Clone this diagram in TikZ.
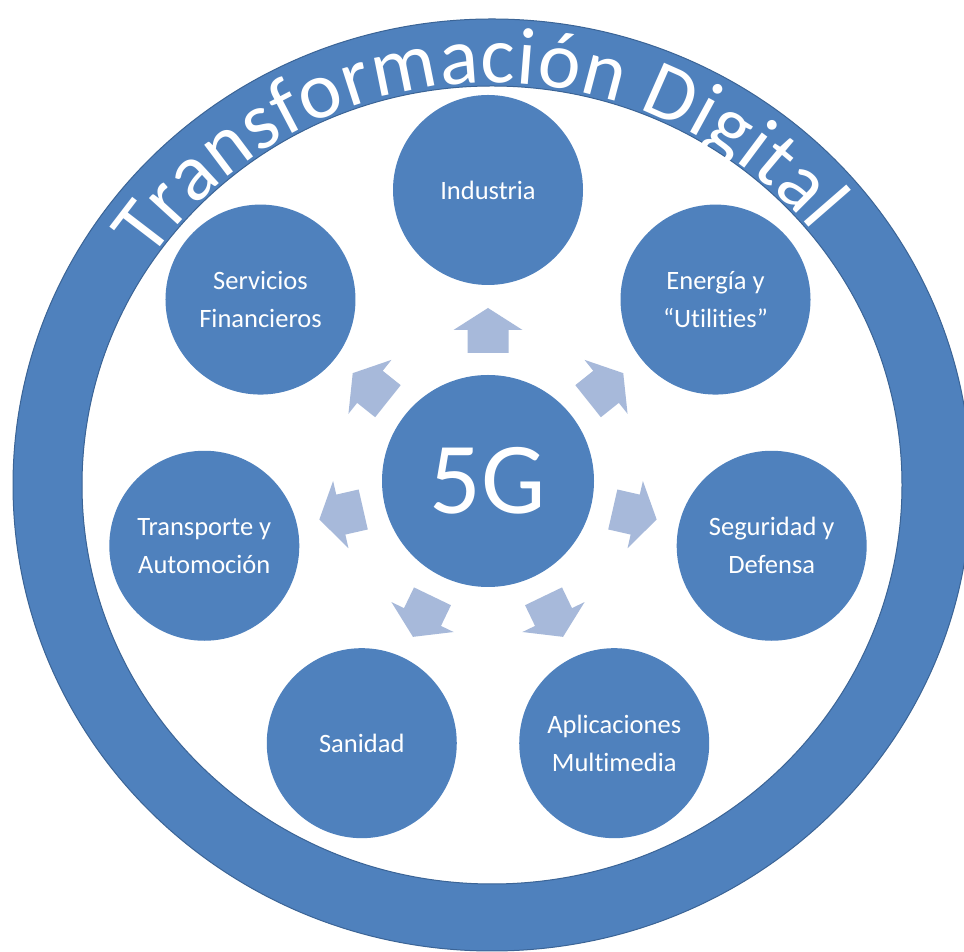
\documentclass[tikz,border=0pt]{standalone}
\usepackage{fontspec}
\setmainfont{Carlito}[Ligatures=NoCommon]
\usetikzlibrary{decorations.text,calc}
\definecolor{ringblue}{HTML}{4F81BD}
\definecolor{ringedge}{HTML}{3B6496}
\definecolor{arrowblue}{HTML}{A7B9DA}
\newcommand{\titlefmt}{\fontsize{81}{86}\selectfont\color{white}}
\begin{document}
\begin{tikzpicture}[x=1pt,y=1pt,
  sat/.style={circle, fill=ringblue, minimum size=190pt, inner sep=0pt,
    text=white, align=center, font=\fontsize{26.5}{38}\selectfont},
  hub/.style={circle, fill=ringblue, minimum size=212pt, inner sep=0pt,
    text=white, font=\fontsize{102}{104}\selectfont},
  blockarrow/.style={fill=arrowblue}
]
\useasboundingbox (0,0) rectangle (964,952);
\clip (0,0) rectangle (964,952);
\fill[white] (0,0) rectangle (964,952);
% outer ring
\coordinate (rc) at (492,467);
\path[fill=ringblue, even odd rule, draw=ringedge, line width=1pt]
  (rc) ellipse [x radius=479pt, y radius=466pt]
  (rc) ellipse [x radius=410pt, y radius=399pt];
% title along the ring
\path[decorate, decoration={text along path, text align=fit to path,
    text={|\titlefmt|Transformación Digital}}]
  (rc) ++(146:412pt and 402pt) arc[start angle=146, end angle=39, x radius=412pt, y radius=402pt];
% hub
\coordinate (c) at (488,471);
\node[hub] (g) at (c) {5G};
% satellites
\node[sat] (ind) at ([shift={(90:291)}]c) {Industria};
\node[sat] (ene) at ([shift={(38.57:291)}]c) {Energía y\\“Utilities”};
\node[sat] (seg) at ([shift={(-12.86:291)}]c) {Seguridad y\\Defensa};
\node[sat] (apl) at ([shift={(-64.29:291)}]c) {Aplicaciones\\Multimedia};
\node[sat] (san) at ([shift={(-115.71:291)}]c) {Sanidad};
\node[sat] (tra) at ([shift={(192.86:291)}]c) {Transporte y\\Automoción};
\node[sat] (ser) at ([shift={(141.43:291)}]c) {Servicios\\Financieros};
% block arrows
\foreach \a in {90,38.57,-12.86,-64.29,-115.71,192.86,141.43}{
  \begin{scope}[shift={(c)}, rotate=\a]
    \fill[blockarrow] (128,-20.5) -- (151,-20.5) -- (151,-34.5) -- (173,0)
      -- (151,34.5) -- (151,20.5) -- (128,20.5) -- cycle;
  \end{scope}
}
\end{tikzpicture}
\end{document}
